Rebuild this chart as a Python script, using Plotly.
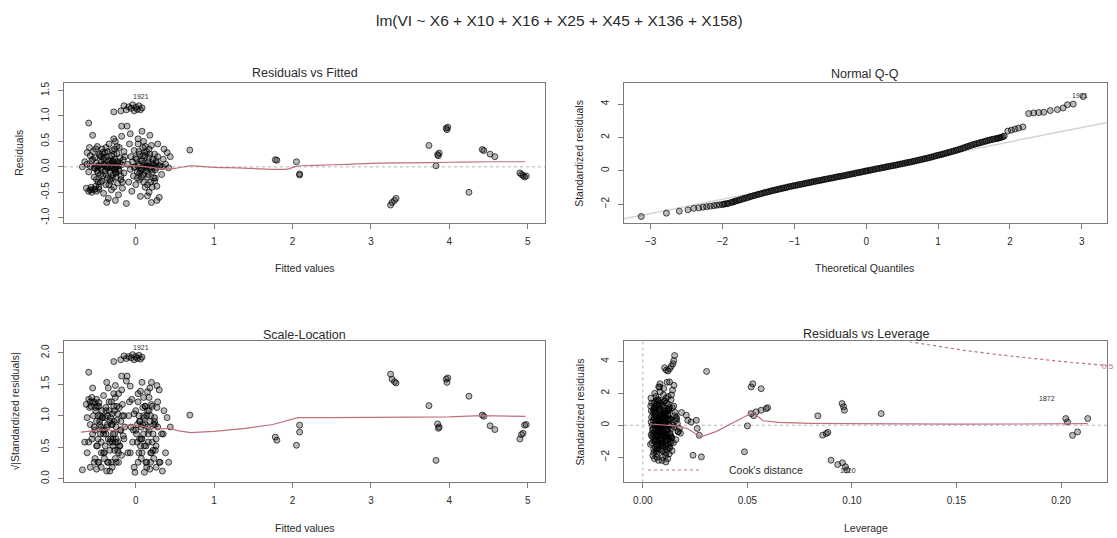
import plotly.graph_objects as go

W, H = 1117, 538

# ---------------- data ----------------
# Residuals vs Fitted / Scale-Location : main cluster
rvf_fitted = [
    -0.68, -0.65, -0.63, -0.62, -0.62, -0.60, -0.60, -0.60, -0.59, -0.58,
    -0.58, -0.57, -0.56, -0.56, -0.55, -0.55, -0.54, -0.53, -0.52, -0.52,
    -0.51, -0.50, -0.50, -0.50, -0.49, -0.48, -0.47, -0.47, -0.47, -0.46,
    -0.45, -0.44, -0.44, -0.43, -0.42, -0.41, -0.41, -0.40, -0.39, -0.39,
    -0.38, -0.37, -0.37, -0.37, -0.36, -0.35, -0.35, -0.34, -0.33, -0.33,
    -0.32, -0.31, -0.31, -0.30, -0.29, -0.29, -0.28, -0.28, -0.27, -0.27,
    -0.26, -0.26, -0.25, -0.25, -0.24, -0.23, -0.23, -0.22, -0.21, -0.21,
    -0.20, -0.19, -0.18, -0.18, -0.18, -0.17, -0.16, -0.15, -0.15, -0.12,
    -0.11, -0.10, -0.09, -0.08, -0.07, -0.07, -0.06, -0.05, -0.04, -0.03,
    -0.02, -0.01, 0.00, 0.01, 0.02, 0.03, 0.04, 0.05, 0.05, 0.06,
    0.07, 0.08, 0.08, 0.09, 0.10, 0.10, 0.11, 0.12, 0.12, 0.13,
    0.14, 0.15, 0.15, 0.16, 0.17, 0.17, 0.18, 0.18, 0.19, 0.20,
    0.20, 0.21, 0.22, 0.23, 0.24, 0.25, 0.26, 0.27, 0.27, 0.28,
    0.28, 0.30, 0.31, 0.33, 0.35, 0.36, 0.38, 0.42, 0.44, 0.40,
    -0.19, -0.15, -0.12, -0.09, -0.06, -0.04, -0.02, 0.00, 0.02, 0.04,
    0.06, 0.08, -0.28,
    -0.58, -0.52, -0.48, -0.44, -0.40, -0.36, -0.33, -0.30, -0.26, -0.22,
    -0.02, 0.03, 0.07, 0.11, 0.14, 0.19, 0.23, 0.26, 0.30, 0.34,
    -0.55, -0.53, -0.51, -0.49, -0.46, -0.43, -0.41, -0.38, -0.36, -0.34,
    -0.32, -0.30, -0.28, -0.26, -0.24, -0.22, -0.20, -0.17, -0.14, -0.45,
    -0.40, -0.35, -0.30, -0.25, -0.50, -0.42, -0.33, -0.27, -0.19, -0.23,
    0.00, 0.02, 0.04, 0.06, 0.08, 0.10, 0.12, 0.14, 0.16, 0.18,
    0.20, 0.22, 0.24, 0.26, 0.05, 0.09, 0.13, 0.17, 0.21, 0.03,
    -0.48, -0.44, -0.38, -0.31, -0.29, 0.07, 0.11, 0.15, 0.19, 0.25,
]
rvf_resid = [
    0.00, 0.10, -0.42, 0.05, 0.28, -0.48, 0.86, -0.10, 0.38, 0.22,
    -0.45, -0.40, 0.12, -0.50, -0.45, 0.62, 0.30, -0.02, 0.18, -0.44,
    -0.38, 0.08, -0.25, -0.48, 0.40, -0.12, 0.02, -0.44, -0.40, 0.25,
    -0.30, 0.10, -0.05, 0.35, -0.18, 0.15, -0.52, 0.05, -0.08, 0.28,
    -0.35, 0.00, 0.20, -0.70, -0.22, 0.12, -0.62, 0.45, -0.10, 0.06,
    -0.28, 0.22, -0.02, 0.32, -0.15, 0.08, -0.40, 0.55, 0.15, -0.06,
    0.50, -0.66, 0.02, -0.20, 0.26, -0.32, 0.10, -0.55, 0.38, -0.08,
    0.18, -0.25, 0.04, 0.60, 0.80, -0.42, 0.14, -0.12, 0.30, -0.72,
    0.80, 0.05, -0.30, 0.45, -0.05, 0.65, 0.20, -0.48, 0.10, -0.18,
    0.32, 0.00, -0.35, 0.15, -0.10, 0.55, 0.05, -0.25, 0.25, -0.58,
    0.12, -0.05, 0.70, 0.38, -0.15, 0.50, 0.08, -0.40, 0.22, -0.02,
    0.30, -0.20, -0.57, 0.10, -0.50, 0.18, 0.00, 0.62, -0.30, 0.42,
    -0.70, -0.10, 0.06, -0.22, 0.25, -0.06, 0.12, -0.38, -0.66, 0.20,
    0.45, -0.60, 0.02, -0.15, 0.15, 0.35, 0.05, -0.02, 0.20, 0.28,
    1.10, 1.20, 1.12, 1.18, 1.15, 1.22, 1.10, 1.17, 1.13, 1.20,
    1.12, 1.16, 1.08,
    0.01, -0.03, 0.02, -0.01, 0.03, -0.02, 0.00, 0.01, -0.03, 0.02,
    -0.01, 0.02, -0.03, 0.00, 0.01, -0.02, 0.03, -0.01, 0.02, 0.00,
    0.15, -0.20, 0.35, -0.08, 0.22, -0.28, 0.05, -0.15, 0.30, -0.35,
    0.12, -0.22, 0.25, -0.10, 0.40, -0.05, 0.08, -0.30, 0.20, -0.15,
    0.18, -0.02, 0.10, -0.12, 0.00, 0.28, -0.25, 0.35, -0.18, 0.06,
    0.18, -0.22, 0.30, -0.08, 0.12, -0.30, 0.40, 0.02, -0.15, 0.25,
    -0.05, 0.15, -0.28, 0.08, -0.12, 0.22, -0.08, 0.35, -0.40, 0.45,
    -0.30, 0.20, 0.38, -0.45, 0.12, -0.20, 0.28, -0.35, 0.05, -0.22,
]
sl_value = [
    0.14, 0.58, 1.18, 0.41, 0.97, 1.26, 1.69, 0.58, 1.13, 0.86,
    1.22, 1.15, 0.63, 1.29, 1.22, 1.44, 1.00, 0.26, 0.77, 1.21,
    1.13, 0.52, 0.91, 1.26, 1.15, 0.63, 0.26, 1.21, 1.15, 0.91,
    1.00, 0.58, 0.41, 1.08, 0.77, 0.71, 1.32, 0.41, 0.52, 0.97,
    1.08, 0.12, 0.82, 1.53, 0.86, 0.63, 1.44, 1.22, 0.58, 0.45,
    0.97, 0.86, 0.26, 1.03, 0.71, 0.52, 1.15, 1.35, 0.71, 0.45,
    1.29, 1.48, 0.26, 0.82, 0.93, 1.03, 0.58, 1.35, 1.13, 0.52,
    0.77, 0.91, 0.37, 1.41, 1.63, 1.18, 0.68, 0.63, 1.00, 1.55,
    1.63, 0.41, 1.00, 1.22, 0.41, 1.47, 0.82, 1.26, 0.58, 0.77,
    1.03, 0.10, 1.08, 0.71, 0.58, 1.35, 0.41, 0.91, 0.91, 1.39,
    0.63, 0.41, 1.53, 1.13, 0.71, 1.29, 0.52, 1.15, 0.86, 0.26,
    1.00, 0.82, 1.38, 0.58, 1.29, 0.77, 0.15, 1.44, 1.00, 1.18,
    1.53, 0.58, 0.45, 0.86, 0.91, 0.45, 0.63, 1.13, 1.48, 0.82,
    1.22, 1.41, 0.26, 0.71, 0.71, 1.08, 0.41, 0.26, 0.82, 0.97,
    1.89, 1.95, 1.91, 1.94, 1.92, 1.97, 1.89, 1.94, 1.91, 1.96,
    1.90, 1.93, 1.86,
    0.18, 0.32, 0.26, 0.18, 0.32, 0.26, 0.12, 0.18, 0.32, 0.26,
    0.18, 0.26, 0.32, 0.10, 0.18, 0.26, 0.32, 0.18, 0.26, 0.12,
    0.71, 0.82, 1.08, 0.52, 0.86, 0.97, 0.41, 0.71, 1.00, 1.08,
    0.63, 0.86, 0.91, 0.58, 1.15, 0.41, 0.52, 1.00, 0.82, 0.71,
    0.77, 0.26, 0.58, 0.63, 0.15, 0.97, 0.91, 1.08, 0.77, 0.45,
    0.77, 0.86, 1.00, 0.52, 0.63, 1.00, 1.15, 0.26, 0.71, 0.91,
    0.41, 0.71, 0.97, 0.52, 0.63, 0.86, 0.52, 1.08, 1.15, 1.22,
    1.00, 0.82, 1.13, 1.22, 0.63, 0.82, 0.97, 1.08, 0.41, 0.86,
]
# isolated observations with large fitted values
out_fitted = [0.69, 1.78, 1.80, 2.05, 2.09, 2.09, 3.25, 3.27, 3.30, 3.32,
              3.74, 3.83, 3.85, 3.87, 3.86, 3.96, 3.97, 3.98, 4.25, 4.42,
              4.44, 4.52, 4.58, 4.90, 4.92, 4.94, 4.96, 4.98]
out_resid = [0.33, 0.14, 0.13, 0.10, -0.16, -0.14, -0.75, -0.70, -0.66, -0.62,
             0.42, 0.02, 0.24, 0.27, 0.22, 0.76, 0.73, 0.78, -0.50, 0.34,
             0.32, 0.25, 0.20, -0.12, -0.15, -0.17, -0.20, -0.18]
out_sl = [1.01, 0.66, 0.61, 0.53, 0.85, 0.74, 1.66, 1.58, 1.54, 1.52,
          1.16, 0.29, 0.87, 0.82, 0.80, 1.58, 1.53, 1.60, 1.31, 1.01,
          0.99, 0.84, 0.78, 0.63, 0.70, 0.72, 0.85, 0.86]

rvf_smooth_x = [-0.65, -0.4, -0.2, 0.0, 0.2, 0.35, 0.5, 0.7, 1.0, 1.3, 1.6, 1.8,
                1.95, 2.05, 2.3, 2.7, 3.0, 3.5, 4.0, 4.5, 4.97]
rvf_smooth_y = [0.05, 0.04, 0.03, 0.02, -0.01, -0.04, -0.03, 0.02, -0.01, -0.02, -0.04,
                -0.05, -0.04, 0.01, 0.03, 0.05, 0.07, 0.08, 0.09, 0.10, 0.10]

sl_smooth_x = [-0.70, -0.55, -0.40, -0.25, -0.10, 0.05, 0.20, 0.35, 0.42, 0.55, 0.70,
               1.0, 1.4, 1.75, 1.9, 2.07, 2.5, 3.0, 3.5, 4.0, 4.4, 4.97]
sl_smooth_y = [0.74, 0.76, 0.78, 0.76, 0.85, 0.84, 0.80, 0.79, 0.80, 0.76, 0.73,
               0.75, 0.80, 0.86, 0.91, 0.97, 0.97, 0.97, 0.975, 0.98, 1.0, 0.99]

# Normal Q-Q
qq_theor = [
    -3.13, -2.78, -2.60, -2.48, -2.40, -2.33, -2.27, -2.22, -2.17, -2.12,
    -2.08, -2.04, -2.00, -1.96, -1.92, -1.88, -1.84, -1.80, -1.75, -1.70,
    -1.65, -1.60, -1.55, -1.50, -1.45, -1.40, -1.35, -1.30, -1.25, -1.20,
    -1.15, -1.10, -1.05, -1.00, -0.95, -0.90, -0.85, -0.80, -0.75, -0.70,
    -0.65, -0.60, -0.55, -0.50, -0.45, -0.40, -0.35, -0.30, -0.25, -0.20,
    -0.15, -0.10, -0.05, 0.00, 0.05, 0.10, 0.15, 0.20, 0.25, 0.30,
    0.35, 0.40, 0.45, 0.50, 0.55, 0.60, 0.65, 0.70, 0.75, 0.80,
    0.85, 0.90, 0.95, 1.00, 1.05, 1.10, 1.15, 1.20, 1.25, 1.30,
    1.35, 1.40, 1.45, 1.50, 1.55, 1.60, 1.65, 1.70, 1.75, 1.80,
    1.84, 1.88, 1.92, 1.97, 2.02, 2.07, 2.12, 2.18, 2.26, 2.33,
    2.40, 2.47, 2.56, 2.66, 2.74, 2.80, 2.88, 3.02,
]
qq_std = [
    -2.74, -2.54, -2.42, -2.34, -2.25, -2.22, -2.18, -2.15, -2.12, -2.09,
    -2.06, -2.04, -2.02, -1.98, -1.95, -1.90, -1.85, -1.79, -1.73, -1.66,
    -1.60, -1.53, -1.47, -1.41, -1.35, -1.29, -1.24, -1.18, -1.13, -1.08,
    -1.03, -0.98, -0.93, -0.89, -0.84, -0.80, -0.75, -0.71, -0.66, -0.62,
    -0.58, -0.53, -0.49, -0.45, -0.41, -0.36, -0.32, -0.28, -0.23, -0.19,
    -0.14, -0.10, -0.05, -0.01, 0.03, 0.07, 0.12, 0.16, 0.20, 0.25,
    0.29, 0.33, 0.38, 0.42, 0.47, 0.51, 0.56, 0.61, 0.66, 0.71,
    0.76, 0.81, 0.87, 0.93, 0.98, 1.04, 1.10, 1.16, 1.22, 1.29,
    1.36, 1.44, 1.51, 1.58, 1.64, 1.70, 1.76, 1.82, 1.87, 1.92,
    1.96, 2.01, 2.08, 2.38, 2.44, 2.50, 2.56, 2.63, 3.43, 3.47,
    3.49, 3.51, 3.61, 3.67, 3.77, 3.96, 4.00, 4.45,
]
qq_theor_mid = [
    -1.98, -1.93, -1.86, -1.82, -1.77, -1.72, -1.67, -1.62, -1.57, -1.52,
    -1.47, -1.42, -1.37, -1.32, -1.27, -1.22, -1.17, -1.12, -1.07, -1.02,
    -0.97, -0.92, -0.87, -0.82, -0.77, -0.72, -0.67, -0.62, -0.57, -0.52,
    -0.47, -0.42, -0.37, -0.32, -0.27, -0.22, -0.17, -0.12, -0.07, -0.02,
    0.02, 0.07, 0.12, 0.17, 0.22, 0.27, 0.32, 0.37, 0.42, 0.47,
    0.52, 0.57, 0.62, 0.67, 0.72, 0.77, 0.82, 0.87, 0.92, 0.97,
    1.02, 1.07, 1.12, 1.17, 1.22, 1.27, 1.32, 1.37, 1.42, 1.47,
    1.52, 1.57, 1.62, 1.67, 1.72, 1.77, 1.82, 1.86, 1.90,
]
qq_std_mid = [
    -2.00, -1.97, -1.88, -1.82, -1.76, -1.69, -1.63, -1.56, -1.50, -1.44,
    -1.38, -1.32, -1.27, -1.21, -1.16, -1.11, -1.06, -1.01, -0.96, -0.91,
    -0.87, -0.82, -0.78, -0.73, -0.69, -0.64, -0.60, -0.56, -0.51, -0.47,
    -0.43, -0.38, -0.34, -0.30, -0.26, -0.21, -0.17, -0.12, -0.08, -0.03,
    0.01, 0.05, 0.10, 0.14, 0.18, 0.23, 0.27, 0.31, 0.35, 0.40,
    0.44, 0.49, 0.53, 0.58, 0.63, 0.68, 0.73, 0.78, 0.84, 0.90,
    0.95, 1.01, 1.07, 1.13, 1.19, 1.25, 1.32, 1.40, 1.47, 1.55,
    1.61, 1.67, 1.73, 1.79, 1.85, 1.90, 1.94, 1.98, 2.04,
]
qq_line_x = [-3.37, 3.35]
qq_line_y = [-2.88, 2.90]

# Residuals vs Leverage
lev_c = [
    0.0040, 0.0052, 0.0061, 0.0070, 0.0083, 0.0095, 0.0108, 0.0120, 0.0135, 0.0150,
    0.0045, 0.0055, 0.0066, 0.0078, 0.0088, 0.0099, 0.0112, 0.0125, 0.0140, 0.0160,
    0.0038, 0.0050, 0.0059, 0.0072, 0.0081, 0.0092, 0.0104, 0.0117, 0.0131, 0.0146,
    0.0048, 0.0058, 0.0068, 0.0076, 0.0086, 0.0097, 0.0110, 0.0122, 0.0138, 0.0155,
    0.0042, 0.0054, 0.0063, 0.0074, 0.0085, 0.0094, 0.0106, 0.0119, 0.0128, 0.0170,
    0.0046, 0.0057, 0.0065, 0.0079, 0.0090, 0.0101, 0.0114, 0.0127, 0.0142, 0.0158,
    0.0039, 0.0051, 0.0060, 0.0071, 0.0082, 0.0093, 0.0103, 0.0115, 0.0133, 0.0148,
    0.0044, 0.0056, 0.0067, 0.0077, 0.0087, 0.0098, 0.0109, 0.0121, 0.0136, 0.0165,
    0.0041, 0.0053, 0.0062, 0.0073, 0.0084, 0.0096, 0.0107, 0.0118, 0.0129, 0.0152,
    0.0047, 0.0059, 0.0069, 0.0080, 0.0091, 0.0100, 0.0113, 0.0124, 0.0139, 0.0175,
    0.0043, 0.0055, 0.0064, 0.0075, 0.0089, 0.0102, 0.0111, 0.0126, 0.0144, 0.0162,
    0.0037, 0.0049, 0.0058, 0.0070, 0.0081, 0.0093, 0.0105, 0.0116, 0.0132, 0.0180,
    0.0045, 0.0056, 0.0066, 0.0078, 0.0086, 0.0097, 0.0108, 0.0123, 0.0137, 0.0157,
    0.0040, 0.0052, 0.0061, 0.0072, 0.0083, 0.0095, 0.0110, 0.0120, 0.0134, 0.0149,
    0.0050, 0.0063, 0.0076, 0.0088, 0.0100, 0.0112, 0.0126, 0.0141, 0.0168, 0.0185,
    0.0053, 0.0064, 0.0075, 0.0086, 0.0097, 0.0108, 0.0119, 0.0130, 0.0060, 0.0071,
    0.0082, 0.0093, 0.0104, 0.0115, 0.0126, 0.0057, 0.0068, 0.0079, 0.0090, 0.0101,
    0.0112, 0.0123, 0.0134, 0.0062, 0.0073, 0.0084, 0.0095, 0.0106, 0.0117, 0.0058,
    0.0069, 0.0080, 0.0091, 0.0102, 0.0113, 0.0124, 0.0055, 0.0066, 0.0077, 0.0088,
    0.0099, 0.0110, 0.0121, 0.0065, 0.0076, 0.0087, 0.0098, 0.0109, 0.0120, 0.0131,
    0.0054, 0.0070, 0.0085, 0.0096, 0.0107, 0.0118, 0.0061, 0.0074, 0.0092, 0.0103,
]
sr_c = [
    0.2, -1.5, 1.1, -0.4, 2.1, -2.0, 0.6, -0.9, 1.6, -0.1,
    -0.7, 1.4, -1.8, 0.3, -1.2, 1.9, -0.3, 0.9, -1.6, 0.5,
    1.2, -0.2, 0.8, -1.4, 0.0, -2.2, 1.5, -0.6, 0.4, -1.1,
    -1.9, 0.7, -0.5, 2.4, -0.8, 0.1, -1.7, 1.3, -0.2, 0.8,
    0.5, -1.0, 1.8, -0.1, 1.0, -1.3, 0.2, -2.1, 1.1, -0.4,
    -0.3, 2.0, -1.6, 0.6, -0.6, 1.5, -1.0, 0.4, 2.2, -0.9,
    1.7, -0.8, 0.0, -1.2, 2.6, -0.4, 0.9, -1.5, 0.3, 1.2,
    -1.1, 0.4, -2.0, 1.2, -0.2, 0.7, -1.9, 1.8, -0.7, 0.1,
    0.9, -1.7, 0.3, -0.6, 1.4, -1.1, 0.5, -0.3, -1.4, 0.6,
    -0.5, 1.1, -1.3, 0.1, -0.9, 2.3, -0.1, 1.0, -0.8, -0.2,
    1.4, -0.4, 0.6, -2.2, 0.2, -0.7, 1.7, -1.8, 0.0, 0.4,
    -1.2, 0.8, -0.9, 1.6, -1.5, 0.5, -0.5, 2.7, -1.0, -0.5,
    0.0, -2.1, 1.3, -0.3, 0.8, -1.6, 0.2, -1.2, 1.9, 0.3,
    -0.6, 1.0, -1.4, 0.4, -0.2, 1.2, -2.3, 0.6, -0.8, 2.5,
    0.3, -0.6, 1.5, -1.0, 0.7, -1.3, 0.0, 1.1, -0.4, 0.8,
    0.5, -0.3, 1.0, -0.8, 0.2, -1.2, 0.7, -0.5, -1.0, 0.4,
    -0.1, 1.3, -0.6, 0.9, -1.4, 0.0, -0.9, 0.6, -0.3, 1.1,
    -0.7, 0.3, -1.1, 1.5, -0.4, 0.8, -1.3, 0.1, -0.2, -0.6,
    1.2, -1.0, 0.5, -0.5, 1.4, -0.8, 0.9, -1.2, 0.2, 0.7,
    -0.4, 0.0, 1.0, -1.5, 0.3, -0.1, 0.6, -0.9, 0.4, -0.6,
    1.1, -0.7, 0.2, -1.1, 0.8, -0.3, 0.1, 1.6, -1.6, 0.5,
]
lev_o = [0.0104, 0.0112, 0.0128, 0.0144, 0.0152, 0.0080, 0.0128, 0.0305, 0.0208, 0.0215,
         0.0231, 0.0256, 0.0260, 0.0270, 0.0240, 0.0280, 0.0486, 0.0500, 0.0518, 0.0526,
         0.0566, 0.0518, 0.0530, 0.0542, 0.0566, 0.0590, 0.0597, 0.0837, 0.0860, 0.0877,
         0.0885, 0.0953, 0.0960, 0.0964, 0.1140, 0.0900, 0.0932, 0.0955, 0.0969, 0.0975,
         0.2023, 0.2031, 0.2055, 0.2079, 0.2128, 0.0120, 0.0136, 0.0148]
sr_o = [3.60, 3.45, 3.54, 3.85, 4.37, 2.40, 2.71, 3.37, 0.63, 0.31,
        0.20, 0.31, -0.20, -0.63, -1.88, -1.98, -1.66, -0.04, 2.40, 2.60,
        2.29, 0.73, 0.60, 0.84, 0.94, 1.04, 1.10, 0.59, -0.62, -0.52,
        -0.45, 1.36, 1.16, 0.94, 0.73, -2.19, -2.46, -2.35, -2.60, -2.80,
        0.42, 0.21, -0.63, -0.42, 0.42, 3.40, 3.70, 4.05]
lev_smooth_x = [0.0035, 0.008, 0.013, 0.017, 0.0215, 0.0276, 0.035, 0.043, 0.050, 0.053,
                0.0575, 0.065, 0.08, 0.097, 0.12, 0.15, 0.18, 0.2128]
lev_smooth_y = [0.08, 0.03, 0.0, -0.05, -0.22, -0.73, -0.40, 0.15, 0.63, 0.78,
                0.28, 0.18, 0.12, 0.10, 0.08, 0.07, 0.08, 0.10]
cook_x = [0.1275, 0.14, 0.155, 0.17, 0.185, 0.20, 0.215, 0.222]
cook_y = [5.23, 4.96, 4.67, 4.42, 4.20, 4.00, 3.82, 3.74]

# ---------------- styling helpers ----------------
FONT = "Liberation Sans, Arial, sans-serif"
TXT = "#2a2a2a"
SMOOTH = "#c0707c"
PT = dict(symbol="circle", size=6, color="rgba(0,0,0,0.27)",
          line=dict(color="rgba(0,0,0,0.68)", width=1))


def fx(px):
    return px / W


def fy(py):
    return 1 - py / H


fig = go.Figure()

# panel 1
fig.add_trace(go.Scatter(x=rvf_fitted + out_fitted, y=rvf_resid + out_resid, mode="markers",
                         marker=PT, xaxis="x", yaxis="y"))
fig.add_trace(go.Scatter(x=rvf_smooth_x, y=rvf_smooth_y, mode="lines",
                         line=dict(color=SMOOTH, width=1.2, shape="spline"), xaxis="x", yaxis="y"))
# panel 2
fig.add_trace(go.Scatter(x=qq_line_x, y=qq_line_y, mode="lines",
                         line=dict(color="#d4d4d4", width=1.5), xaxis="x2", yaxis="y2"))
fig.add_trace(go.Scatter(x=qq_theor + qq_theor_mid, y=qq_std + qq_std_mid, mode="markers",
                         marker=PT, xaxis="x2", yaxis="y2"))
# panel 3
fig.add_trace(go.Scatter(x=rvf_fitted + out_fitted, y=sl_value + out_sl, mode="markers",
                         marker=PT, xaxis="x3", yaxis="y3"))
fig.add_trace(go.Scatter(x=sl_smooth_x, y=sl_smooth_y, mode="lines",
                         line=dict(color=SMOOTH, width=1.2), xaxis="x3", yaxis="y3"))
# panel 4
fig.add_trace(go.Scatter(x=lev_c + lev_o, y=sr_c + sr_o, mode="markers", marker=PT,
                         xaxis="x4", yaxis="y4"))
fig.add_trace(go.Scatter(x=lev_smooth_x, y=lev_smooth_y, mode="lines",
                         line=dict(color=SMOOTH, width=1.2), xaxis="x4", yaxis="y4"))
fig.add_trace(go.Scatter(x=cook_x, y=cook_y, mode="lines",
                         line=dict(color=SMOOTH, width=1.2, dash="3px,3px"), xaxis="x4", yaxis="y4"))

axis_common = dict(showline=True, mirror=True, linecolor="#7a7a7a", linewidth=1,
                   ticks="outside", ticklen=5, tickwidth=1, tickcolor="#7a7a7a",
                   showgrid=False, zeroline=False,
                   tickfont=dict(family=FONT, size=10, color=TXT))
xcommon = dict(axis_common, ticklabelstandoff=4)
ycommon = dict(axis_common, tickangle=-90, ticklabelstandoff=5)

dx_left = [fx(64), fx(545)]
dx_right = [fx(624), fx(1107)]
dy_top = [fy(223), fy(82)]
dy_bot = [fy(484), fy(342)]

fig.update_layout(
    width=W, height=H, margin=dict(l=0, r=0, t=0, b=0),
    paper_bgcolor="white", plot_bgcolor="white", showlegend=False,
    font=dict(family=FONT, color=TXT),
    xaxis=dict(xcommon, domain=dx_left, anchor="y", range=[-0.915, 5.22],
               tickvals=[0, 1, 2, 3, 4, 5]),
    yaxis=dict(ycommon, domain=dy_top, anchor="x", range=[-1.11, 1.64],
               tickvals=[-1.0, -0.5, 0.0, 0.5, 1.0, 1.5],
               ticktext=["-1.0", "-0.5", "0.0", "0.5", "1.0", "1.5"]),
    xaxis2=dict(xcommon, domain=dx_right, anchor="y2", range=[-3.37, 3.35],
                tickvals=[-3, -2, -1, 0, 1, 2, 3]),
    yaxis2=dict(ycommon, domain=dy_top, anchor="x2", range=[-3.15, 5.24],
                tickvals=[-2, 0, 2, 4]),
    xaxis3=dict(xcommon, domain=dx_left, anchor="y3", range=[-0.915, 5.22],
                tickvals=[0, 1, 2, 3, 4, 5]),
    yaxis3=dict(ycommon, domain=dy_bot, anchor="x3", range=[-0.06, 2.18],
                tickvals=[0.0, 0.5, 1.0, 1.5, 2.0],
                ticktext=["0.0", "0.5", "1.0", "1.5", "2.0"]),
    xaxis4=dict(xcommon, domain=dx_right, anchor="y4", range=[-0.009, 0.222],
                tickvals=[0.0, 0.05, 0.10, 0.15, 0.20],
                ticktext=["0.00", "0.05", "0.10", "0.15", "0.20"]),
    yaxis4=dict(ycommon, domain=dy_bot, anchor="x4", range=[-3.58, 5.25],
                tickvals=[-2, 0, 2, 4]),
)

# dotted reference lines
ref = dict(color="#b4b4b4", width=1, dash="dot")
fig.add_shape(type="line", xref="x domain", yref="y", x0=0, x1=1, y0=0, y1=0, line=ref, layer="below")
fig.add_shape(type="line", xref="x4 domain", yref="y4", x0=0, x1=1, y0=0, y1=0, line=ref, layer="below")
fig.add_shape(type="line", xref="x4", yref="y4 domain", x0=0, x1=0, y0=0, y1=1, line=ref, layer="below")

# Cook's distance legend
fig.add_shape(type="line", xref="paper", yref="paper", x0=fx(648), x1=fx(700),
              y0=fy(471.5), y1=fy(471.5), line=dict(color=SMOOTH, width=1.2, dash="3px,3px"))

ann = []


def text(x, y, s, size, angle=0, xanchor="center", color=TXT):
    ann.append(dict(x=fx(x), y=fy(y), xref="paper", yref="paper", text=s, showarrow=False,
                    textangle=angle, xanchor=xanchor, yanchor="middle",
                    font=dict(family=FONT, size=size, color=color)))


text(559, 19, "lm(VI ~ X6 + X10 + X16 + X25 + X45 + X136 + X158)", 15.5)
text(304.5, 72, "Residuals vs Fitted", 12.5)
text(865, 72.5, "Normal Q-Q", 12.5)
text(304.5, 335, "Scale-Location", 12.5)
text(866, 334.5, "Residuals vs Leverage", 12.5)
text(304.5, 268, "Fitted values", 10.5)
text(865, 268, "Theoretical Quantiles", 10.5)
text(304.5, 530, "Fitted values", 10.5)
text(866, 530, "Leverage", 10.5)
text(19.5, 152.5, "Residuals", 10.5, angle=-90)
text(579.5, 152.5, "Standardized residuals", 10.5, angle=-90)
text(14.5, 413, "√|Standardized residuals|", 10.5, angle=-90)
text(579.5, 413, "Standardized residuals", 10.5, angle=-90)
text(727, 471.5, "Cook's distance", 10.5, xanchor="left")
text(1116, 367.5, "0.5", 8, xanchor="right", color=SMOOTH)
# point labels
text(141, 95, "1921", 7)
text(141, 348, "1921", 7)
text(1080, 94, "1921", 7)
text(1047, 399, "1872", 7)
text(848, 472, "1920", 7)

fig.update_layout(annotations=ann)
fig.write_html("out.html")
